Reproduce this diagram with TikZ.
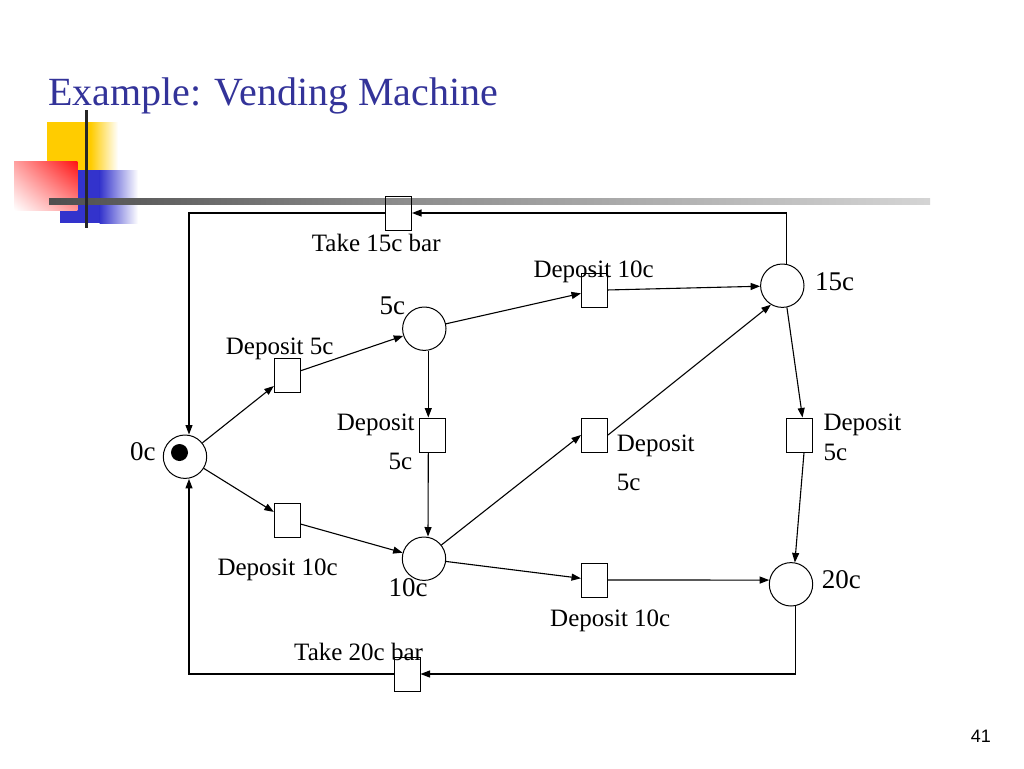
\documentclass[tikz,border=0pt]{standalone}
\usepackage{fontspec}
\setmainfont{Liberation Serif}
\newfontfamily\pgnumfont{Liberation Sans}
\usetikzlibrary{arrows.meta,calc,shadings}
\definecolor{titleblue}{RGB}{51,51,153}
\definecolor{yellowdec}{RGB}{255,204,0}
\definecolor{bluedec}{RGB}{51,51,204}
\definecolor{reddec}{RGB}{255,20,20}
\pgfdeclarehorizontalshading{barshade}{100bp}{color(0bp)=(black!88); color(12bp)=(black!85); color(45bp)=(black!45); color(80bp)=(black!12); color(100bp)=(white)}
\tikzset{
 place/.style={circle,draw,line width=1pt,minimum size=43.4pt,inner sep=0pt},
 trans/.style={rectangle,draw,line width=1pt,minimum width=26pt,minimum height=34pt,inner sep=0pt},
 arc/.style={line width=1.1pt,-{Triangle[length=9.5pt,width=7pt]}},
 lbl/.style={font=\fontsize{25}{30}\selectfont,inner sep=0pt,anchor=base west},
 pname/.style={font=\fontsize{27}{32}\selectfont,inner sep=0pt,anchor=base west},
 token/.style={circle,fill=black,minimum size=17pt,inner sep=0pt}
}
\begin{document}
\begin{tikzpicture}[x=1pt,y=-1pt]
\useasboundingbox[fill=white] (0,0) rectangle (1024,768);
% decoration
\fill[yellowdec] (46.7,122.3) rectangle (91,170);
\shade[left color=yellowdec,right color=white] (90.5,122.3) rectangle (118,170);
\fill[bluedec] (60,170) rectangle (100,223.3);
\shade[left color=bluedec,right color=white] (99.5,170) rectangle (138,223.3);
\shade[upper left=reddec!40,upper right=reddec,lower left=white,lower right=reddec!45] (14,161.7) rectangle (77.3,210);
\shade[shading=barshade] (49,198.9) rectangle (930,204.1);
\draw[line width=3.5pt,black!85] (86.7,110) -- (86.7,228);
% title
\node[anchor=base west,inner sep=0pt,text=titleblue,font=\fontsize{40}{48}\selectfont] (title) at (48,105) {Example: Vending Machine};
% places
\node[place] (p0) at (185,456.7) {};
\node[token] (tok) at (179.5,452.5) {};
\node[place] (p5) at (424.3,328.7) {};
\node[place] (p15) at (782.3,285.7) {};
\node[place] (p10) at (424,558.7) {};
\node[place] (p20) at (791,584.3) {};
% transitions
\node[trans] (t15) at (398.5,213) {};
\node[trans] (tD5) at (287.3,375.3) {};
\node[trans] (tD10a) at (594.5,290.3) {};
\node[trans] (tD5b) at (432.3,435) {};
\node[trans] (tD10b) at (287.3,520.3) {};
\node[trans] (tD5c) at (594.5,435) {};
\node[trans] (tD5d) at (799.5,435) {};
\node[trans] (tD10c) at (594.5,580) {};
\node[trans] (t20) at (407,674) {};
% connectors
\draw[arc] (p15.78) |- (t15.east);
\draw[arc] (t15.west) -| ([xshift=4pt]p0.north);
\draw[arc] (p20.-79) |- (t20.east);
\draw[arc] (t20.west) -| ([xshift=4pt]p0.south);
\draw[arc] (p0) -- (tD5);
\draw[arc] (tD5) -- (p5);
\draw[arc] (p5) -- (tD10a);
\draw[arc] (tD10a) -- (p15);
\draw[arc] ([xshift=4pt]p5.south) -- ([xshift=-4pt]tD5b.north);
\draw[arc] ([xshift=-4pt]tD5b.south) -- ([xshift=4pt]p10.north);
\draw[arc] (p0) -- (tD10b);
\draw[arc] (tD10b) -- (p10);
\draw[arc] (p10) -- (tD5c.west);
\draw[arc] (tD5c.east) -- (p15.-121);
\draw[arc] (p15.-78) -- ([xshift=3pt]tD5d.north);
\draw[arc] ([xshift=4.5pt]tD5d.south) -- (p20.80);
\draw[arc] (p10) -- (tD10c);
\draw[arc] (tD10c.east) -- (p20.169);
% labels
\node[lbl] (l1) at (311.7,251.7) {Take 15c bar};
\node[pname] (n5) at (379.3,314) {5c};
\node[lbl] (l2) at (225.7,354) {Deposit 5c};
\node[lbl] (l3) at (533.3,277.3) {Deposit 10c};
\node[pname] (n15) at (815,290) {15c};
\node[lbl] (l4) at (336.7,430.7) {Deposit};
\node[lbl] (l4b) at (388.3,469.3) {5c};
\node[pname] (n0) at (130,460) {0c};
\node[lbl] (l5) at (217.3,575) {Deposit 10c};
\node[pname] (n10) at (388.3,596.7) {10c};
\node[lbl] (l6) at (294,660.7) {Take 20c bar};
\node[lbl] (l7) at (616.7,451.7) {Deposit};
\node[lbl] (l7b) at (616.7,490) {5c};
\node[lbl] (l8) at (823.3,430.7) {Deposit};
\node[lbl] (l8b) at (823.3,460.7) {5c};
\node[pname] (n20) at (821.7,588.3) {20c};
\node[lbl] (l9) at (550,626) {Deposit 10c};
\node[anchor=base east,inner sep=0pt,font=\pgnumfont\fontsize{18}{22}\selectfont] (pg) at (991,742) {41};
\end{tikzpicture}
\end{document}
